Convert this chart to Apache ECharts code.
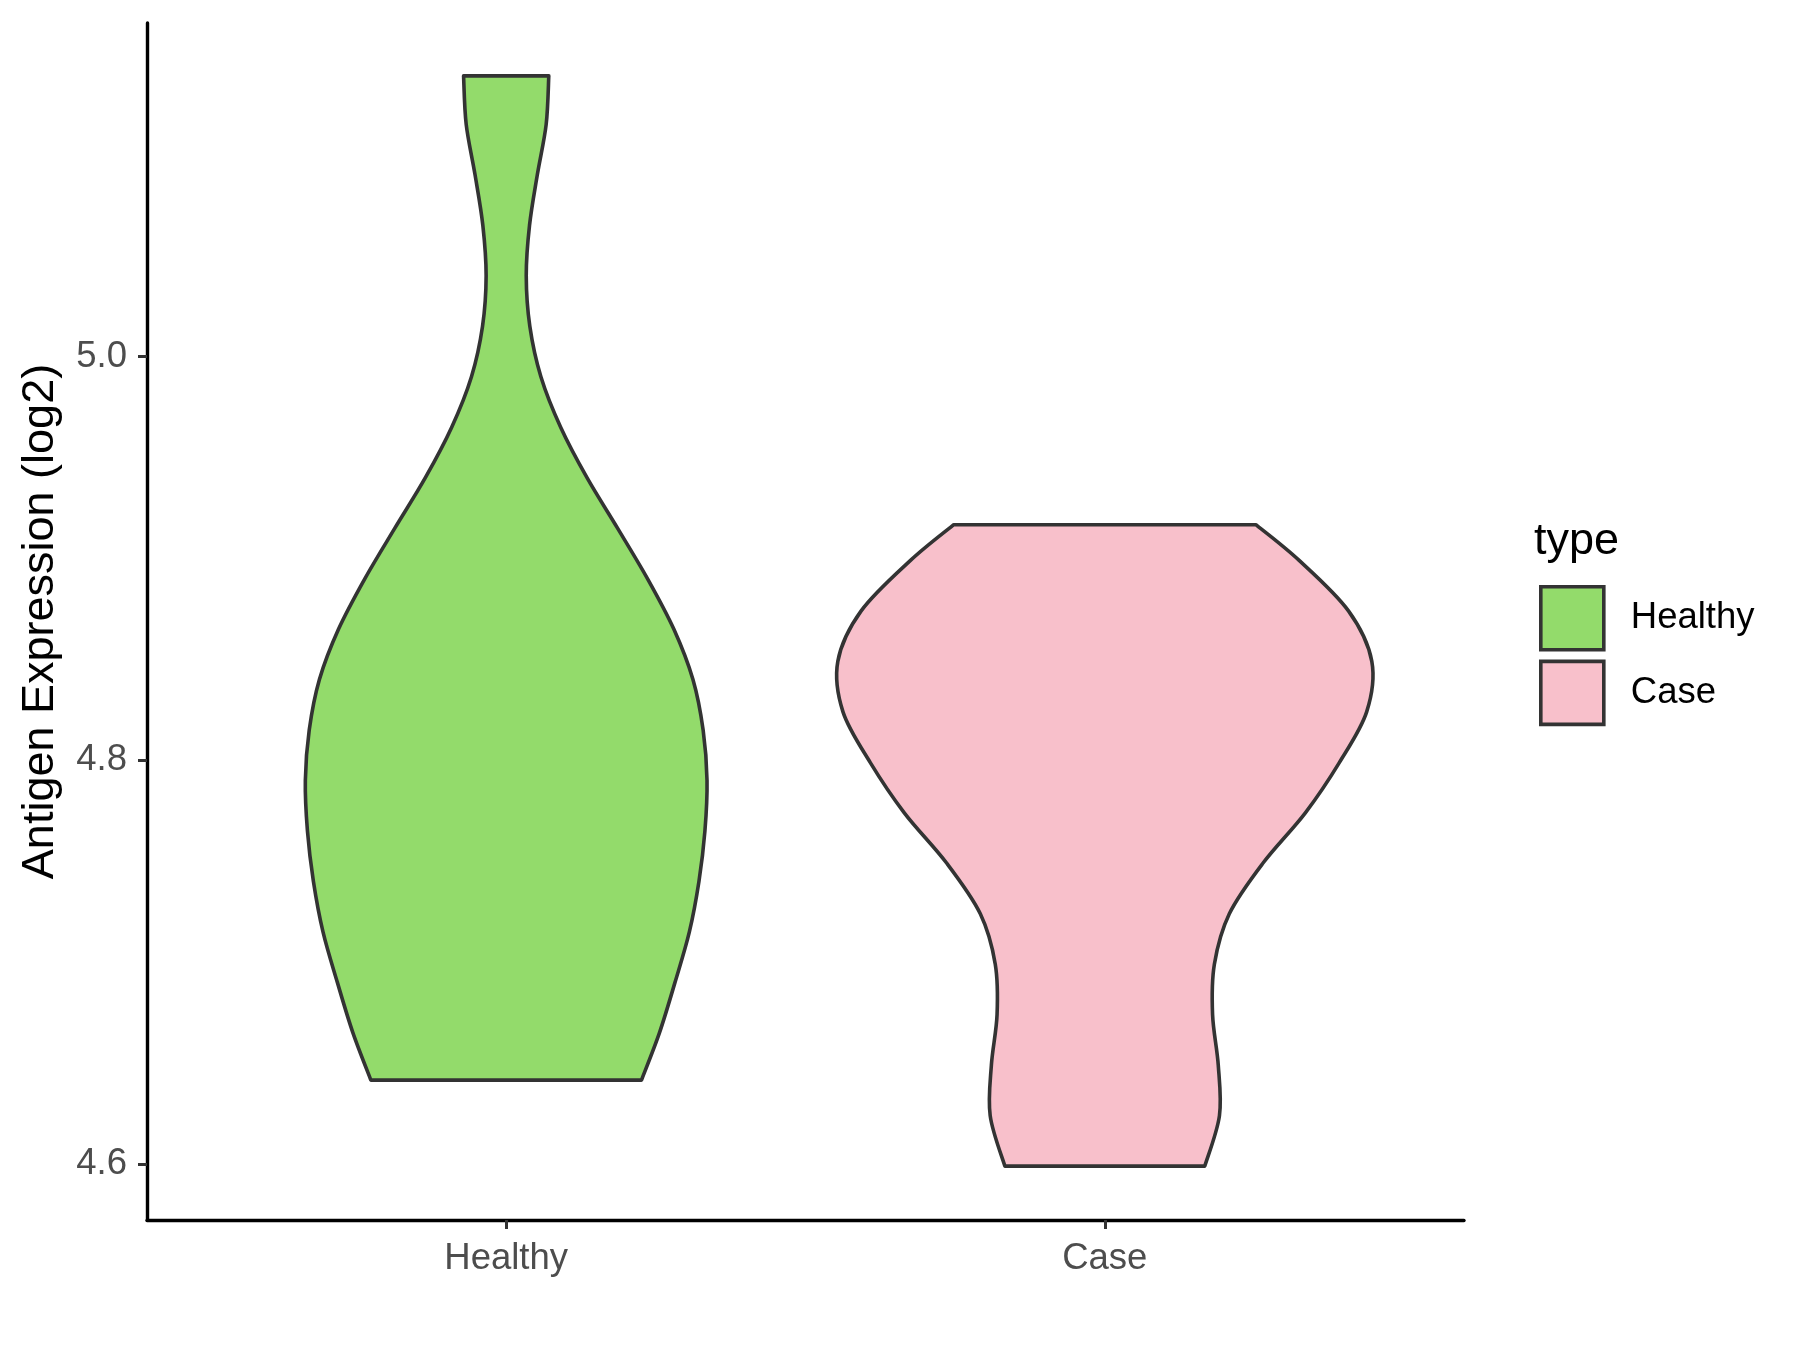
<!DOCTYPE html>
<html>
<head>
<meta charset="utf-8">
<script src="https://cdn.jsdelivr.net/npm/echarts@6/dist/echarts.min.js"></script>
<style>
html,body{margin:0;padding:0;background:#fff;}
#chart{width:1800px;height:1350px;}
</style>
</head>
<body>
<div id="chart"></div>
<script>
// ---- data ----
var categories = ['Healthy', 'Case'];
var yTicks = [4.6, 4.8, 5.0];

// Healthy violin outline: y value and half-width (x-axis units), top -> bottom
var healthyY = [5.139, 5.115, 5.09, 5.065, 5.04, 5.015, 4.99, 4.965, 4.94, 4.915, 4.89, 4.865, 4.84, 4.815, 4.79, 4.765, 4.74, 4.715, 4.69, 4.665, 4.6416];
var healthyHalf = [0.0712, 0.0668, 0.052, 0.039, 0.0335, 0.0395, 0.058, 0.091, 0.135, 0.186, 0.236, 0.280, 0.312, 0.329, 0.3355, 0.332, 0.322, 0.306, 0.282, 0.256, 0.226];

// Case violin outline
var caseY = [4.9167, 4.899, 4.874, 4.849, 4.824, 4.799, 4.774, 4.749, 4.724, 4.699, 4.674, 4.649, 4.624, 4.599];
var caseHalf = [0.2523, 0.3246, 0.407, 0.446, 0.4374, 0.392, 0.335, 0.264, 0.208, 0.183, 0.180, 0.1895, 0.1915, 0.167];

var fillColors = ['#93DB6B', '#F8C0CB'];

// ---- rendering ----
function bezierSide(pts) {
  // Catmull-Rom to cubic bezier segments (drawing only)
  var d = '';
  for (var i = 0; i < pts.length - 1; i++) {
    var p0 = pts[i - 1] || pts[i];
    var p1 = pts[i];
    var p2 = pts[i + 1];
    var p3 = pts[i + 2] || p2;
    var c1x = p1[0] + (p2[0] - p0[0]) / 6, c1y = p1[1] + (p2[1] - p0[1]) / 6;
    var c2x = p2[0] - (p3[0] - p1[0]) / 6, c2y = p2[1] - (p3[1] - p1[1]) / 6;
    d += ' C' + c1x + ' ' + c1y + ' ' + c2x + ' ' + c2y + ' ' + p2[0] + ' ' + p2[1];
  }
  return d;
}

function makeViolinRender(center, ys, halves) {
  return function (params, api) {
    var left = [], right = [];
    for (var i = 0; i < ys.length; i++) {
      left.push(api.coord([center - halves[i], ys[i]]));
      right.push(api.coord([center + halves[i], ys[i]]));
    }
    right.reverse();
    var d = 'M' + left[0][0] + ' ' + left[0][1];
    d += bezierSide(left);
    d += ' L' + right[0][0] + ' ' + right[0][1];
    d += bezierSide(right);
    d += ' Z';
    return {
      type: 'path',
      shape: { pathData: d },
      style: {
        fill: api.visual('color'),
        stroke: '#333333',
        lineWidth: 3.6,
        lineJoin: 'round'
      }
    };
  };
}

var fontFam = '"Liberation Sans", Arial, sans-serif';

var chart = echarts.init(document.getElementById('chart'), null, { renderer: 'canvas' });
chart.setOption({
  animation: false,
  backgroundColor: '#ffffff',
  textStyle: { fontFamily: fontFam },
  grid: { left: 147, right: 336, top: 23, bottom: 130, containLabel: false },
  title: {
    text: 'type',
    left: 1534,
    top: 519,
    padding: 0,
    textStyle: { fontFamily: fontFam, fontSize: 45, fontWeight: 'normal', color: '#000' }
  },
  legend: {
    orient: 'vertical',
    left: 1539,
    top: 585,
    padding: 0,
    itemWidth: 63,
    itemHeight: 63,
    itemGap: 8,
    icon: 'rect',
    data: categories,
    itemStyle: { borderColor: '#333333', borderWidth: 3.6 },
    textStyle: { fontFamily: fontFam, fontSize: 36.5, color: '#000', padding: [0, 0, 0, 22] }
  },
  xAxis: {
    type: 'value',
    min: 0.4,
    max: 2.6,
    splitLine: { show: false },
    axisLine: { show: true, onZero: false, lineStyle: { color: '#000', width: 3.4 } },
    axisTick: { show: true, customValues: [1, 2], length: 9, lineStyle: { color: '#333', width: 3 } },
    axisLabel: {
      customValues: [1, 2],
      formatter: function (v) { return categories[Math.round(v) - 1]; },
      fontSize: 36.5,
      color: '#4D4D4D',
      margin: 20,
      fontFamily: fontFam
    }
  },
  yAxis: {
    type: 'value',
    min: 4.5723,
    max: 5.1652,
    splitLine: { show: false },
    name: 'Antigen Expression (log2)',
    nameLocation: 'middle',
    nameGap: 84,
    nameTextStyle: { fontSize: 45, color: '#000', fontFamily: fontFam },
    axisLine: { show: true, onZero: false, lineStyle: { color: '#000', width: 3.4 } },
    axisTick: { show: true, customValues: yTicks, length: 9, lineStyle: { color: '#333', width: 3 } },
    axisLabel: {
      customValues: yTicks,
      formatter: function (v) { return v.toFixed(1); },
      fontSize: 36.5,
      color: '#4D4D4D',
      margin: 20,
      fontFamily: fontFam
    }
  },
  series: [
    {
      name: categories[0],
      type: 'custom',
      renderItem: makeViolinRender(1, healthyY, healthyHalf),
      data: [[1, healthyY[0]]],
      itemStyle: { color: fillColors[0], borderColor: '#333333', borderWidth: 3.6 },
      clip: false
    },
    {
      name: categories[1],
      type: 'custom',
      renderItem: makeViolinRender(2, caseY, caseHalf),
      data: [[2, caseY[0]]],
      itemStyle: { color: fillColors[1], borderColor: '#333333', borderWidth: 3.6 },
      clip: false
    }
  ]
});
</script>
</body>
</html>
